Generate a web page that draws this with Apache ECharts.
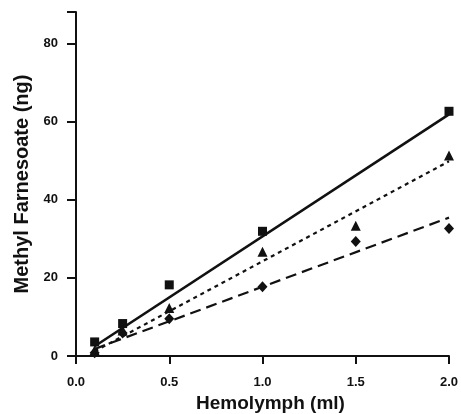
<!DOCTYPE html>
<html>
<head>
<meta charset="utf-8">
<script src="https://cdn.jsdelivr.net/npm/echarts@6/dist/echarts.min.js"></script>
<style>html,body{margin:0;padding:0;background:#fff}#c{width:461px;height:414px}</style>
</head>
<body>
<div id="c"></div>
<script>
// Data
const xTicks = [0.0, 0.5, 1.0, 1.5, 2.0];
const yTicks = [0, 20, 40, 60, 80];
const squareX = [0.1, 0.25, 0.5, 1.0, 2.0];
const squareY = [3.6, 8.3, 18.2, 31.9, 62.6];
const triangleX = [0.1, 0.25, 0.5, 1.0, 1.5, 2.0];
const triangleY = [1.5, 6.5, 12.3, 26.7, 33.3, 51.3];
const diamondX = [0.1, 0.25, 0.5, 1.0, 1.5, 2.0];
const diamondY = [0.8, 5.9, 9.5, 17.7, 29.3, 32.6];
// Fitted regression lines (endpoints)
const solidFitX = [0.1, 2.0];
const solidFitY = [2.5, 61.8];
const dottedFitX = [0.1, 2.0];
const dottedFitY = [1.2, 49.8];
const dashedFitX = [0.1, 2.0];
const dashedFitY = [1.8, 35.4];

const zip = (a, b) => a.map((v, i) => [v, b[i]]);
const ink = '#111';
const font = '"Liberation Sans", Arial, sans-serif';

const chart = echarts.init(document.getElementById('c'));
chart.setOption({
  animation: false,
  backgroundColor: '#fff',
  grid: { left: 76, right: 12, top: 12, bottom: 58, containLabel: false, outerBoundsMode: 'none' },
  xAxis: {
    type: 'value', min: 0, max: 2, interval: 0.5,
    name: 'Hemolymph (ml)', nameLocation: 'middle', nameGap: 37,
    nameTextStyle: { fontFamily: font, fontWeight: 'bold', fontSize: 19, color: ink, padding: [0, 0, 0, 16] },
    axisLine: { lineStyle: { color: ink, width: 2 } },
    axisTick: { show: true, length: 8, lineStyle: { color: ink, width: 2 } },
    axisLabel: { margin: 20, fontFamily: font, fontWeight: 'bold', fontSize: 13, color: ink,
      formatter: v => v.toFixed(1) },
    splitLine: { show: false }
  },
  yAxis: {
    type: 'value', min: 0, max: 88, interval: 20,
    name: 'Methyl Farnesoate (ng)', nameLocation: 'middle', nameGap: 42,
    nameTextStyle: { fontFamily: font, fontWeight: 'bold', fontSize: 20, color: ink },
    axisLine: { lineStyle: { color: ink, width: 2 } },
    axisTick: { show: true, length: 9, lineStyle: { color: ink, width: 2 } },
    axisLabel: { margin: 18, fontFamily: font, fontWeight: 'bold', fontSize: 13, color: ink,
      formatter: v => (yTicks.indexOf(v) >= 0 ? String(v) : '') },
    splitLine: { show: false }
  },
  series: [
    { type: 'line', data: zip(solidFitX, solidFitY), showSymbol: false, symbol: 'none',
      lineStyle: { color: ink, width: 2.6, type: 'solid' }, z: 2 },
    { type: 'line', data: zip(dottedFitX, dottedFitY), showSymbol: false, symbol: 'none',
      lineStyle: { color: ink, width: 2.2, type: [4, 4] }, z: 2 },
    { type: 'line', data: zip(dashedFitX, dashedFitY), showSymbol: false, symbol: 'none',
      lineStyle: { color: ink, width: 2.2, type: [11, 6] }, z: 2 },
    { type: 'scatter', data: zip(squareX, squareY), symbol: 'rect', symbolSize: 9,
      itemStyle: { color: ink, opacity: 1 }, z: 3 },
    { type: 'scatter', data: zip(triangleX, triangleY), symbol: 'triangle', symbolSize: 10,
      itemStyle: { color: ink, opacity: 1 }, z: 3 },
    { type: 'scatter', data: zip(diamondX, diamondY), symbol: 'diamond', symbolSize: [10, 11],
      itemStyle: { color: ink, opacity: 1 }, z: 3 }
  ]
});
</script>
</body>
</html>
